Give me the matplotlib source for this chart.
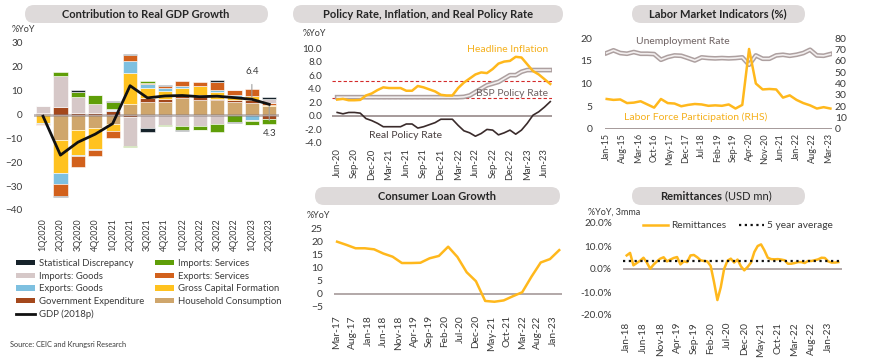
import numpy as np
import pandas as pd
import matplotlib
matplotlib.use('agg')
import matplotlib.pyplot as plt
import matplotlib.patheffects as pe
from matplotlib.patches import FancyBboxPatch, Patch
from matplotlib.lines import Line2D
from matplotlib.transforms import IdentityTransform

plt.rcParams['font.family'] = ['Lato', 'DejaVu Sans']

W, H = 870, 363
TXT = '#3a3a3a'
YEL = '#ffb81c'
ZERO = '#a59a9a'

# ---------------- data: contribution to real GDP growth ----------------
quarters = ['1Q2020', '2Q2020', '3Q2020', '4Q2020', '1Q2021', '2Q2021', '3Q2021',
            '4Q2021', '1Q2022', '2Q2022', '3Q2022', '4Q2022', '1Q2023', '2Q2023']
household = [0.2, -10.5, -6.6, -5.6, -3.8, 4.6, 5.4, 5.2, 7.0, 5.9, 5.9, 5.2, 5.0, 3.6]
government = [0.6, 3.0, 0.5, 0.5, 1.6, -0.9, 1.7, 1.4, 1.1, 2.1, 0.7, 0.8, 0.9, -1.7]
gross_capital = [-3.5, -14.0, -10.5, -8.9, -3.2, 12.9, 3.9, 3.4, 3.2, 3.8, 2.8, 1.3, 1.9, 0.3]
exports_goods = [-0.3, -4.5, -0.3, -0.2, 0.4, 4.9, 1.8, 1.2, 0.8, 0.3, 1.0, 0.8, -2.4, -0.3]
exports_services = [-0.4, -5.0, -4.5, -2.5, -3.0, 2.5, 0.6, 0.8, 2.0, 1.6, 3.2, 2.0, 3.0, 0.8]
imports_goods = [2.7, 13.0, 6.8, 3.9, 0.4, -12.3, -5.6, -4.2, -4.8, -5.0, -3.9, 0.3, -0.5, 1.9]
imports_services = [0.3, 2.0, 2.2, 3.6, 2.8, -0.3, 0.6, -0.7, -1.6, -1.4, -3.5, -3.0, -1.3, -1.8]
stat_discrepancy = [-0.3, -0.6, 0.8, 0.2, 0.4, 0.3, -1.7, 0.5, -0.3, -0.2, 1.0, -0.4, -0.3, 0.9]
gdp_growth = [-0.7, -17.0, -11.6, -8.2, -3.8, 12.1, 7.0, 7.8, 8.0, 7.5, 7.7, 7.1, 6.4, 4.3]

# ---------------- data: policy rate, inflation, real rate (Jun-20 .. Jul-23) ----------------
headline_inflation = [2.4, 2.5, 2.3, 2.3, 2.35, 3.0, 3.3, 3.8, 4.2, 4.1, 4.1, 4.1, 3.7, 3.7,
                      4.4, 4.2, 3.9, 3.6, 3.1, 3.0, 3.0, 4.1, 4.9, 5.5, 6.1, 6.4, 6.3, 6.9,
                      7.7, 8.0, 8.1, 8.7, 8.6, 7.6, 6.6, 6.1, 5.4, 4.7]
bsp_policy_rate = [2.75] * 22 + [2.8, 3.0, 3.5, 4.0, 4.5, 4.75, 5.0, 5.5, 6.0, 6.0, 6.5,
                                 6.75, 6.75, 6.75, 6.75, 6.75]
real_policy_rate = [0.5, 0.3, 0.5, 0.5, 0.4, -0.4, -0.7, -1.1, -1.6, -1.6, -1.6, -1.6, -1.2,
                    -1.2, -1.8, -1.6, -1.3, -1.0, -0.5, -0.5, -0.5, -1.4, -2.2, -2.5, -3.0,
                    -2.6, -2.0, -2.1, -2.8, -2.5, -2.1, -2.7, -2.1, -1.1, 0.1, 0.6, 1.3, 2.1]
target_band = [2.7, 5.1]

# ---------------- data: labor market (quarterly, Jan-15 .. Apr-23) ----------------
unemployment = [6.6, 6.4, 6.5, 5.7, 5.8, 6.1, 5.4, 4.7, 6.6, 5.7, 5.6, 5.0, 5.3, 5.5, 5.4,
                5.1, 5.2, 5.1, 5.4, 4.5, 5.3, 17.6, 10.0, 8.7, 8.8, 8.7, 6.9, 7.4, 6.4, 5.7,
                5.2, 4.5, 4.8, 4.5]
participation = [66.8, 69.2, 66.8, 66.2, 67.7, 66.2, 66.2, 65.9, 60.9, 63.3, 64.7, 64.4, 62.4,
                 60.3, 63.0, 62.4, 62.1, 62.4, 62.1, 62.4, 63.0, 56.5, 64.7, 61.8, 61.8, 64.7,
                 65.3, 64.4, 65.3, 66.8, 69.7, 64.7, 64.4, 65.9]

# ---------------- data: consumer loan growth (quarterly, Mar-17 .. Mar-23) ----------------
consumer_loans = [19.8, 18.6, 17.3, 17.3, 16.9, 15.3, 14.1, 11.7, 11.7, 11.8, 13.5, 14.4, 17.9,
                  14.0, 8.2, 4.8, -2.7, -3.0, -2.5, -0.9, 0.6, 6.5, 11.9, 13.2, 16.6]

# ---------------- data: remittances (%YoY 3mma, Jan-18 .. Apr-23) ----------------
remittances = [5.9, 7.0, 1.6, 2.6, 3.6, 4.9, 2.8, 0.1, 1.9, 3.3, 4.5, 5.1,
               3.3, 4.1, 4.8, 5.2, 2.0, 3.3, 3.0, 5.9, 6.1, 5.1, 3.8, 3.5,
               3.3, 1.3, -5.7, -13.5, -8.0, 0.0, 3.6, 4.5, 2.8, 4.1, 1.2, -0.6,
               0.9, 2.8, 7.4, 10.0, 10.7, 8.1, 4.9, 4.3, 4.2, 4.3, 4.1, 3.8,
               2.3, 2.3, 2.6, 3.0, 3.0, 2.6, 3.5, 3.5, 3.8, 4.2, 4.9, 4.8,
               3.3, 2.8, 2.8, 3.0]
five_year_avg = 3.3


def px_axes(fig, l, t, r, b):
    ax = fig.add_axes([l / W, 1 - b / H, (r - l) / W, (b - t) / H])
    for s in ax.spines.values():
        s.set_visible(False)
    ax.tick_params(length=0, labelsize=7, colors=TXT)
    ax.set_facecolor('none')
    return ax


def title_box(fig, l, t, r, b, text, cx):
    box = FancyBboxPatch((l, H - b), r - l, b - t, boxstyle='round,pad=0,rounding_size=9',
                         transform=IdentityTransform(), facecolor='#dedada', edgecolor='none')
    fig.patches.append(box)
    if text:
        fig.text(cx / W, 1 - (t + b) / 2 / H, text, ha='center', va='center',
                 fontsize=8, fontweight='bold', color='#262626')


def ftext(fig, x, y, s, **kw):
    kw.setdefault('fontsize', 6.5)
    kw.setdefault('color', TXT)
    return fig.text(x / W, 1 - y / H, s, va='center', **kw)


def month_labels(start, n, fmt='%b-%y'):
    return [d.strftime(fmt) for d in pd.date_range(start, periods=n, freq='MS')]


double_line = [pe.Stroke(linewidth=3.4, foreground='#ada0a0'), pe.Normal()]

fig = plt.figure(figsize=(W / 100, H / 100), dpi=100)
fig.patch.set_facecolor('white')

# ================= panel 1: contribution to real GDP growth =================
title_box(fig, 25, 5, 268, 23, 'Contribution to Real GDP Growth', 146)
ax1 = px_axes(fig, 34, 43, 279, 210)
series = [
    ('Household Consumption', household, '#cfa66c'),
    ('Government Expenditure', government, '#a4481c'),
    ('Gross Capital Formation', gross_capital, '#ffc21f'),
    ('Exports: Goods', exports_goods, '#7ec0e0'),
    ('Exports: Services', exports_services, '#d2611c'),
    ('Imports: Goods', imports_goods, '#d6c8c8'),
    ('Imports: Services', imports_services, '#5f9e08'),
    ('Statistical Discrepancy', stat_discrepancy, '#16232b'),
]
x = np.arange(len(quarters))
pos = np.zeros(len(x))
neg = np.zeros(len(x))
handles = {}
for name, vals, col in series:
    v = np.array(vals)
    bottom = np.where(v >= 0, pos, neg)
    ax1.bar(x, v, bottom=bottom, width=0.82, color=col, edgecolor='white', linewidth=0.4, zorder=2)
    pos = pos + np.where(v >= 0, v, 0)
    neg = neg + np.where(v < 0, v, 0)
    handles[name] = Patch(facecolor=col, edgecolor='none')
ax1.axhline(0, color='#8a7d7d', lw=2, alpha=0.55, zorder=3)
ax1.plot(x, gdp_growth, color='#111111', lw=2, zorder=4)
ax1.set_xlim(-0.52, 13.56)
ax1.set_ylim(-40, 30)
ax1.set_yticks(range(-40, 31, 10))
ax1.set_xticks(x)
ax1.set_xticklabels(quarters, rotation=90)
ax1.tick_params(axis='x', pad=6, labelsize=6.4)
ax1.tick_params(axis='y', pad=8, labelsize=7.2)
ax1.annotate(f'{gdp_growth[12]:.1f}', xy=(12, gdp_growth[12]), xytext=(12, 18),
             ha='center', va='center', fontsize=7, color=TXT,
             arrowprops=dict(arrowstyle='-', color='#a0a0a0', lw=0.8, shrinkA=4, shrinkB=0))
ax1.annotate(f'{gdp_growth[13]:.1f}', xy=(13, gdp_growth[13]), xytext=(13, -8),
             ha='center', va='center', fontsize=7, color=TXT,
             arrowprops=dict(arrowstyle='-', color='#a0a0a0', lw=0.8, shrinkA=4, shrinkB=0))
ftext(fig, 12, 30, '%YoY')
handles['GDP (2018p)'] = Line2D([], [], color='#111111', lw=2)
order = ['Statistical Discrepancy', 'Imports: Goods', 'Exports: Goods', 'Government Expenditure',
         'GDP (2018p)', 'Imports: Services', 'Exports: Services', 'Gross Capital Formation',
         'Household Consumption']
fig.legend([handles[k] for k in order], order, ncol=2, loc='upper left',
           bbox_to_anchor=(16 / W, 1 - 259 / H), frameon=False, fontsize=6.8,
           handlelength=2.0, handleheight=0.5, handletextpad=0.45, labelspacing=0.38,
           columnspacing=1.1, borderpad=0, borderaxespad=0, labelcolor=TXT)
ftext(fig, 10, 345, 'Source: CEIC and Krungsri Research', fontsize=5.3)

# ================= panel 2: policy rate, inflation =================
title_box(fig, 293, 5, 563, 23, 'Policy Rate, Inflation, and Real Policy Rate', 428)
ax2 = px_axes(fig, 332, 48, 552, 143)
m = np.arange(len(headline_inflation))
for lvl in target_band:
    ax2.axhline(lvl, color='#d42a2a', lw=0.8, ls=(0, (3, 2)), zorder=1)
ax2.axhline(0, color=ZERO, lw=1.4, zorder=1)
ax2.plot(m, bsp_policy_rate, color='#f3efef', lw=1.2, path_effects=double_line, zorder=2)
ax2.plot(m, headline_inflation, color=YEL, lw=1.8, zorder=3)
ax2.plot(m, real_policy_rate, color='#3a2b2b', lw=1.2, zorder=3)
ax2.set_xlim(-0.9, 37.3)
ax2.set_ylim(-4, 10)
ax2.set_yticks(np.arange(-4, 10.1, 2))
ax2.set_yticklabels([f'{v:.1f}' for v in np.arange(-4, 10.1, 2)])
lab2 = month_labels('2020-06-01', len(m))
ax2.set_xticks(m[::3])
ax2.set_xticklabels(lab2[::3], rotation=90)
ax2.tick_params(axis='x', pad=4, labelsize=6.8)
ax2.tick_params(axis='y', pad=7, labelsize=7.2)
ftext(fig, 303, 33, '%YoY')
ftext(fig, 508, 49, 'Headline Inflation', fontsize=7.5, color='#f5b01c', ha='center')
ftext(fig, 512, 93, 'BSP Policy Rate', fontsize=7.5, color='#6e6262', ha='center')
ftext(fig, 406, 135, 'Real Policy Rate', fontsize=7.5, color='#4a4040', ha='center')

# ================= panel 3: labor market =================
title_box(fig, 632, 5, 805, 23, 'Labor Market Indicators (%)', 718)
ax3 = px_axes(fig, 605, 38, 832, 129)
q_months = np.arange(len(unemployment)) * 3
ax3.axhline(0, color=ZERO, lw=1.4)
ax3.plot(q_months, unemployment, color=YEL, lw=1.8, zorder=3)
ax3.set_ylim(0, 20.01)
ax3.set_yticks(range(0, 21, 5))
ax3.set_xlim(-0.75, 99.7)
lab3 = month_labels('2015-01-01', 99)
ax3.set_xticks(range(0, 99, 7))
ax3.set_xticklabels(lab3[::7], rotation=90)
ax3.tick_params(axis='x', pad=3, labelsize=6.5)
ax3.tick_params(axis='y', pad=9, labelsize=7.5)
ax3r = ax3.twinx()
for s in ax3r.spines.values():
    s.set_visible(False)
ax3r.plot(q_months, participation, color='#f3efef', lw=1.2, path_effects=double_line, zorder=2)
ax3r.set_ylim(0, 80.04)
ax3r.set_yticks(range(0, 81, 10))
ax3r.tick_params(length=0, labelsize=7.5, colors=TXT, pad=2)
ax3.set_zorder(ax3r.get_zorder() + 1)
ax3.patch.set_visible(False)
ftext(fig, 683, 42, 'Unemployment Rate', fontsize=7.5, color='#6e6262', ha='center')
ftext(fig, 696, 117, 'Labor Force Participation (RHS)', fontsize=7.5, color='#f5b01c', ha='center')

# ================= panel 4: consumer loan growth =================
title_box(fig, 315, 187, 560, 205, 'Consumer Loan Growth', 437)
ax4 = px_axes(fig, 334, 228, 562, 307)
lq = np.arange(len(consumer_loans)) * 3
ax4.axhline(0, color=ZERO, lw=1.2)
ax4.plot(lq, consumer_loans, color=YEL, lw=1.8)
ax4.set_ylim(-5, 25)
ax4.set_yticks(range(-5, 26, 5))
ax4.set_xlim(-1, 72.9)
lab4 = month_labels('2017-03-01', 71)
ax4.set_xticks(range(0, 71, 5))
ax4.set_xticklabels(lab4[::5], rotation=90)
ax4.tick_params(axis='x', pad=6, labelsize=7.3)
ax4.tick_params(axis='y', pad=8, labelsize=7.5)
ftext(fig, 307, 216, '%YoY')

# ================= panel 5: remittances =================
title_box(fig, 632, 187, 805, 205, '', 718)
fig.text(722 / W, 1 - 196 / H, 'Remittances', ha='right', va='center', fontsize=8,
         fontweight='bold', color='#262626')
fig.text(725 / W, 1 - 196 / H, '(USD mn)', ha='left', va='center', fontsize=8, color='#262626')
ax5 = px_axes(fig, 623, 223, 842, 315)
rm = np.arange(len(remittances))
ax5.axhline(0, color=ZERO, lw=1.2)
ax5.plot(rm, remittances, color=YEL, lw=1.8, label='Remittances')
ax5.axhline(five_year_avg, color='#111111', lw=1.6, ls=(0, (1, 1.6)), label='5 year average')
ax5.set_ylim(-20, 20)
ax5.set_yticks(range(-20, 21, 10))
ax5.set_yticklabels([f'{v:.1f}%' for v in range(-20, 21, 10)])
ax5.set_xlim(-1.1, 64.1)
lab5 = month_labels('2018-01-01', 61)
ax5.set_xticks(range(0, 61, 5))
ax5.set_xticklabels(lab5[::5], rotation=90)
ax5.tick_params(axis='x', pad=5, labelsize=7.2)
ax5.tick_params(axis='y', pad=8, labelsize=7.2)
ax5.legend(loc='upper left', bbox_to_anchor=(643 / W, 1 - 221 / H), bbox_transform=fig.transFigure,
           ncol=2, frameon=False, fontsize=7.3, handlelength=2.5, handletextpad=0.3,
           columnspacing=1.2, borderpad=0, borderaxespad=0, labelcolor=TXT)
ftext(fig, 588, 212, '%YoY, 3mma')

fig.savefig('out.png', dpi=100)
